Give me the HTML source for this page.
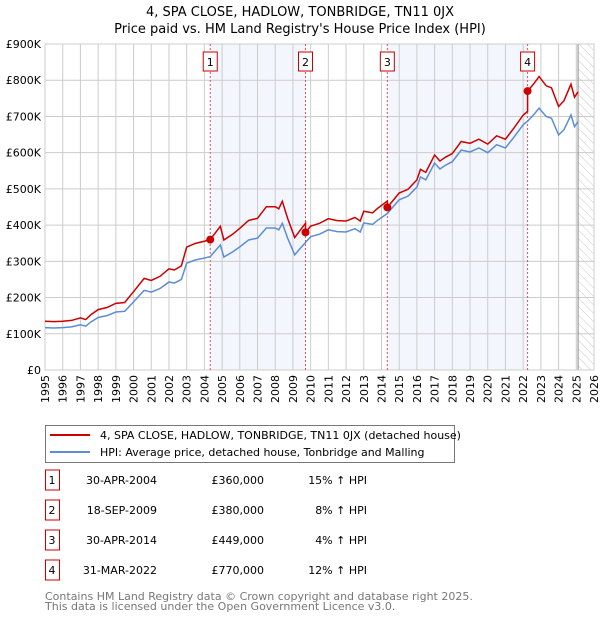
<!DOCTYPE html>
<html><head><meta charset="utf-8"><style>
body{margin:0;background:#fff;font-family:"DejaVu Sans","Liberation Sans",sans-serif;}
svg text{font-family:"DejaVu Sans","Liberation Sans",sans-serif;}
</style></head><body>
<svg id="c" width="600" height="620" viewBox="0 0 600 620">
<defs><pattern id="hatch" width="6" height="6" patternUnits="userSpaceOnUse" patternTransform="rotate(-45)"><line x1="0" y1="0" x2="0" y2="6" stroke="#bbb" stroke-width="0.8"/></pattern></defs>
<text x="300" y="16" text-anchor="middle" font-size="13">4, SPA CLOSE, HADLOW, TONBRIDGE, TN11 0JX</text>
<text x="300" y="33" text-anchor="middle" font-size="13">Price paid vs. HM Land Registry's House Price Index (HPI)</text>
<g id="plot"></g>
<g>
<rect x="45.5" y="425.5" width="409" height="37" fill="#fff" stroke="#777"/>
<line x1="50" y1="435" x2="90" y2="435" stroke="#cc0000" stroke-width="2"/>
<text x="100" y="439" font-size="11">4, SPA CLOSE, HADLOW, TONBRIDGE, TN11 0JX (detached house)</text>
<line x1="50" y1="452" x2="90" y2="452" stroke="#5b8dd6" stroke-width="2"/>
<text x="100" y="456" font-size="11">HPI: Average price, detached house, Tonbridge and Malling</text>
</g>
<g id="table"></g>
<text x="45" y="600" font-size="11" fill="#777">Contains HM Land Registry data © Crown copyright and database right 2025.</text>
<text x="45" y="610" font-size="11" fill="#777">This data is licensed under the Open Government Licence v3.0.</text>
</svg>
<script>
const hpiYears=[1995,1995.5,1996,1996.5,1997,1997.3,1997.6,1998,1998.5,1999,1999.5,2000,2000.6,2001,2001.5,2002,2002.3,2002.7,2003,2003.5,2004,2004.33,2004.9,2005.1,2005.6,2006,2006.5,2007,2007.5,2008,2008.2,2008.4,2008.7,2009.1,2009.4,2009.71,2010,2010.5,2011,2011.5,2012,2012.5,2012.8,2013,2013.5,2013.8,2014.33,2015,2015.5,2016,2016.2,2016.5,2017,2017.3,2017.6,2018,2018.5,2019,2019.5,2020,2020.5,2021,2021.5,2022,2022.25,2022.6,2022.9,2023.3,2023.6,2024,2024.3,2024.7,2024.9,2025.1];
const hpiValues=[117,116,117,119,125,121,133,145,150,160,162,188,220,215,225,243,240,250,295,304,309,313,345,312,326,340,359,364,392,392,387,405,364,318,335,352,368,375,387,382,381,390,381,406,402,414,432,470,480,505,533,525,571,555,565,575,607,602,613,600,622,613,644,677,687,705,723,700,695,649,663,704,672,685];
const saleYears=[2004.33,2009.71,2014.33,2022.25];
const salePrices=[360000,380000,449000,770000];
const saleLabels=["1","2","3","4"];
const saleDates=["30-APR-2004","18-SEP-2009","30-APR-2014","31-MAR-2022"];
const saleHpiText=["15% \u2191 HPI","8% \u2191 HPI","4% \u2191 HPI","12% \u2191 HPI"];
const yTicks=[0,100000,200000,300000,400000,500000,600000,700000,800000,900000];
const yTickLabels=["£0","£100K","£200K","£300K","£400K","£500K","£600K","£700K","£800K","£900K"];
const xTicks=[1995,1996,1997,1998,1999,2000,2001,2002,2003,2004,2005,2006,2007,2008,2009,2010,2011,2012,2013,2014,2015,2016,2017,2018,2019,2020,2021,2022,2023,2024,2025,2026];

const NS="http://www.w3.org/2000/svg";
const X0=45,X1=594,Y0=370,Y1=44;
const xs=y=>X0+(y-1995)/(2026-1995)*(X1-X0);
const ys=v=>Y0-v/900000*(Y0-Y1);
const plot=document.getElementById('plot');
function mk(t,a,p){const e=document.createElementNS(NS,t);for(const k in a)e.setAttribute(k,a[k]);(p||plot).appendChild(e);return e;}
function hpiAt(t){for(let i=0;i<hpiYears.length-1;i++){if(t<=hpiYears[i+1]){const f=(t-hpiYears[i])/(hpiYears[i+1]-hpiYears[i]);return (hpiValues[i]+f*(hpiValues[i+1]-hpiValues[i]))*1000;}}return hpiValues[hpiValues.length-1]*1000;}
for(let i=0;i<saleYears.length;i+=2){
 const r=mk('rect',{x:xs(saleYears[i]),y:Y1,width:xs(saleYears[i+1])-xs(saleYears[i]),height:Y0-Y1,fill:'#f3f6fd'});
 
 
}
const h=mk('rect',{x:xs(2025.1),y:Y1,width:X1-xs(2025.1),height:Y0-Y1,fill:'url(#hatch)'});


xTicks.forEach((t,i)=>{
 const l=mk('line',{x1:xs(t),x2:xs(t),y1:Y1,y2:Y0,stroke:'#ccc','stroke-width':1});
 
 
 const tx=mk('text',{x:0,y:0,'font-size':11,'text-anchor':'end',transform:`translate(${xs(t)+4},${Y0+5}) rotate(-90)`});
 tx.textContent=t;
 
 
});
yTicks.forEach((v,i)=>{
 const l=mk('line',{x1:X0,x2:X1,y1:ys(v),y2:ys(v),stroke:'#ccc','stroke-width':1});
 
 
 const tx=mk('text',{x:41,y:ys(v)+4,'font-size':11,'text-anchor':'end'});
 tx.textContent=yTickLabels[i];
 
 
});
const vl=mk('line',{x1:xs(2025.1),x2:xs(2025.1),y1:Y1,y2:Y0,stroke:'#888','stroke-width':1});


const fr=mk('rect',{x:X0,y:Y1,width:X1-X0,height:Y0-Y1,fill:'none',stroke:'#ccc'});


saleYears.forEach((t,i)=>{
 const l=mk('line',{x1:xs(t),x2:xs(t),y1:Y1,y2:Y0,stroke:'#e05050','stroke-width':1,'stroke-dasharray':'2,2'});
 
 
 const b=mk('rect',{x:xs(t)-7,y:52,width:14,height:19,fill:'#fff',stroke:'#cc0000'});
 
 
 const tx=mk('text',{x:xs(t),y:66,'font-size':11,'text-anchor':'middle'});
 tx.textContent=saleLabels[i];
 
 
});
const hp=mk('polyline',{points:hpiYears.map((t,i)=>xs(t)+','+ys(hpiValues[i]*1000)).join(' '),fill:'none',stroke:'#5b8dd6','stroke-width':1.5});


let pts=[];
function seg(t){let k=0;for(let i=0;i<saleYears.length;i++)if(t>=saleYears[i])k=i;return k;}
const times=hpiYears.slice().concat(saleYears).sort((a,b)=>a-b);
times.forEach(t=>{
 const k=seg(t);
 if(saleYears.includes(t)&&k>0){const pk=k-1;pts.push([t,salePrices[pk]*hpiAt(t)/hpiAt(saleYears[pk])]);}
 pts.push([t,salePrices[k]*hpiAt(t)/hpiAt(saleYears[k])]);
});
const pl=mk('polyline',{points:pts.map(p=>xs(p[0])+','+ys(p[1])).join(' '),fill:'none',stroke:'#cc0000','stroke-width':1.5});


saleYears.forEach((t,i)=>{
 const c=mk('circle',{cx:xs(t),cy:ys(salePrices[i]),r:4,fill:'#cc0000'});
 
 
});
const tb=document.getElementById('table');
saleYears.forEach((t,i)=>{
 const y=483+i*30;
 const b=mk('rect',{x:45.5,y:y-13,width:14,height:20,fill:'#fff',stroke:'#cc0000'},tb);
 
 
 const a=mk('text',{x:52,y:y+1,'font-size':11,'text-anchor':'middle'},tb);a.textContent=saleLabels[i];
 
 
 const d=mk('text',{x:157,y:y+1,'font-size':11,'text-anchor':'end'},tb);d.textContent=saleDates[i];
 
 
 const p=mk('text',{x:264,y:y+1,'font-size':11,'text-anchor':'end'},tb);p.textContent='£'+salePrices[i].toLocaleString('en-GB');
 
 
 const q=mk('text',{x:367,y:y+1,'font-size':11,'text-anchor':'end'},tb);q.textContent=saleHpiText[i];
 
 
});
</script>
</body></html>
